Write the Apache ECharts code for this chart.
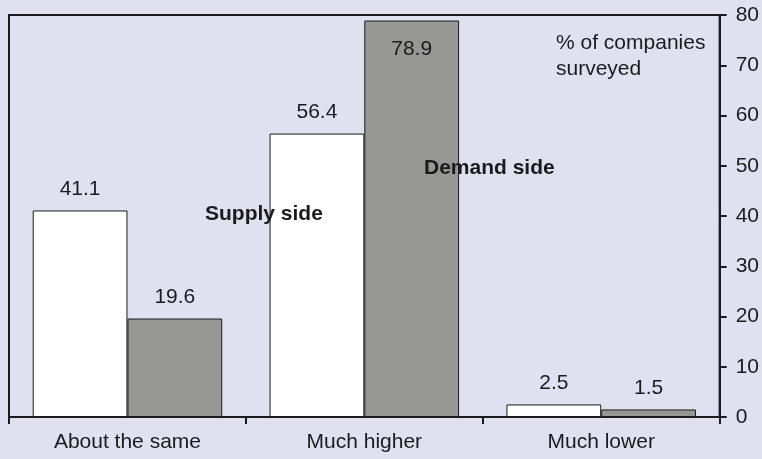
<!DOCTYPE html>
<html>
<head>
<meta charset="utf-8">
<script src="https://cdn.jsdelivr.net/npm/echarts@6/dist/echarts.min.js"></script>
<style>
  html, body { margin: 0; padding: 0; background: #e0e1f0; }
  #chart { width: 762px; height: 459px; }
</style>
</head>
<body>
<div id="chart"></div>
<script>
// Survey responses by category
const categories = ['About the same', 'Much higher', 'Much lower'];
const supplySide = [41.1, 56.4, 2.5];
const demandSide = [19.6, 78.9, 1.5];
const axisMin = 0;
const axisMax = 80;
const axisStep = 10;

const ink = '#1c1a1b';
const font = 'Liberation Sans, Arial, sans-serif';
const fs = 21;

const chart = echarts.init(document.getElementById('chart'), null, { renderer: 'canvas' });

const valueLabel = {
  show: true,
  position: 'top',
  distance: 11,
  color: ink,
  fontFamily: font,
  fontSize: fs
};

// bars that reach the top of the scale carry their label inside
const withLabels = values => values.map(v => v > 75
  ? { value: v, label: { position: 'insideTop', distance: 18 } }
  : v);

chart.setOption({
  backgroundColor: '#e0e1f0',
  animation: false,
  grid: {
    left: 9, right: 38, top: 15, bottom: 42,
    show: true,
    borderColor: ink,
    borderWidth: 2,
    backgroundColor: 'transparent'
  },
  xAxis: {
    type: 'category',
    data: categories,
    axisLine: { show: true, lineStyle: { color: ink, width: 2 } },
    axisTick: { show: true, length: 7, lineStyle: { color: ink, width: 2 } },
    axisLabel: { color: ink, fontFamily: font, fontSize: fs, margin: 15 }
  },
  yAxis: {
    type: 'value',
    position: 'right',
    min: axisMin, max: axisMax, interval: axisStep,
    splitLine: { show: false },
    axisLine: { show: true, lineStyle: { color: ink, width: 2 } },
    axisTick: { show: true, inside: false, length: 7, lineStyle: { color: ink, width: 2 } },
    axisLabel: { color: ink, fontFamily: font, fontSize: fs, margin: 16 }
  },
  series: [
    {
      name: 'Supply side',
      type: 'bar',
      data: withLabels(supplySide),
      barGap: '0%',
      barCategoryGap: '20%',
      itemStyle: { color: '#ffffff', borderColor: ink, borderWidth: 1 },
      label: valueLabel
    },
    {
      name: 'Demand side',
      type: 'bar',
      data: withLabels(demandSide),
      itemStyle: { color: '#979795', borderColor: ink, borderWidth: 1 },
      label: valueLabel
    }
  ],
  graphic: [
    {
      type: 'text', left: 205, top: 204, z: 100,
      style: { text: 'Supply side', fill: ink, font: 'bold ' + fs + 'px ' + font }
    },
    {
      type: 'text', left: 424, top: 158, z: 100,
      style: { text: 'Demand side', fill: ink, font: 'bold ' + fs + 'px ' + font }
    },
    {
      type: 'text', left: 556, top: 30, z: 100,
      style: { text: '% of companies\nsurveyed', fill: ink, font: fs + 'px ' + font, lineHeight: 26 }
    }
  ]
});
</script>
</body>
</html>
